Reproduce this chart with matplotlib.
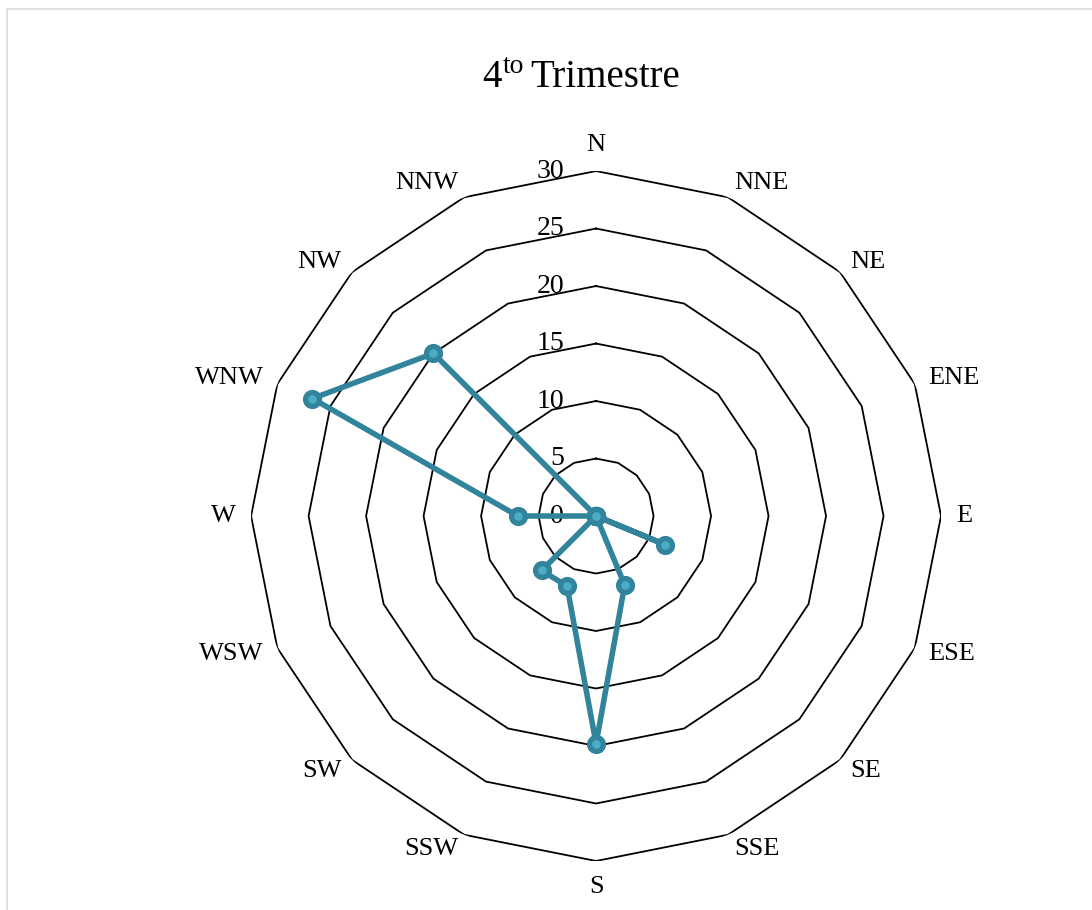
import numpy as np
import matplotlib.pyplot as plt
from matplotlib.patches import Rectangle
from matplotlib.transforms import offset_copy

plt.rcParams['font.family'] = ['Liberation Serif', 'DejaVu Serif']
plt.rcParams['mathtext.fontset'] = 'custom'
plt.rcParams['mathtext.rm'] = 'Liberation Serif'

# Datos del 4to trimestre (rosa de vientos)
direcciones = ['N', 'NNE', 'NE', 'ENE', 'E', 'ESE', 'SE', 'SSE',
               'S', 'SSW', 'SW', 'WSW', 'W', 'WNW', 'NW', 'NNW']
valores = [0, 0, 0, 0, 0, 6.5, 0, 6.5, 19.8, 6.6, 6.7, 0, 6.8, 26.7, 20.0, 0]
niveles = [0, 5, 10, 15, 20, 25, 30]

color_linea = '#31849B'
color_marcador = '#4BACC6'

angulos = np.deg2rad(np.arange(len(direcciones)) * 360 / len(direcciones))
ang_cerrado = np.append(angulos, angulos[0])
val_cerrado = np.append(valores, valores[0])

fig = plt.figure(figsize=(10.92, 9.10), dpi=100)

# Marco del area del grafico
fig.patches.append(Rectangle((6.5 / 1092, -0.1), 1.2, 1.1 - 9.5 / 910,
                             transform=fig.transFigure, fill=False,
                             edgecolor='#D9D9D9', linewidth=1.2))

ax = fig.add_axes([0.2299, 0.05385, 0.6319, 0.7582], projection='polar')
ax.set_theta_zero_location('N')
ax.set_theta_direction(-1)
ax.set_ylim(0, 30)
ax.grid(False)
ax.spines['polar'].set_visible(False)
ax.set_xticks([])
ax.set_yticks([])
ax.patch.set_alpha(0)

# Anillos poligonales
for nivel in niveles[1:]:
    ax.plot(ang_cerrado, [nivel] * len(ang_cerrado), color='black',
            linewidth=1.3, zorder=1)

# Etiquetas del eje radial
trans = offset_copy(ax.transData, fig=fig, x=-32, y=0, units='dots')
for nivel in niveles:
    ax.text(0, nivel, str(nivel), transform=trans, ha='right', va='center',
            fontsize=20, zorder=2)

# Etiquetas de direcciones
for ang, nombre in zip(angulos, direcciones):
    s, c = np.sin(ang), np.cos(ang)
    ha = 'center' if abs(s) < 0.01 else ('left' if s > 0 else 'right')
    va = 'center'
    if abs(s) < 0.01:
        va = 'bottom' if c > 0 else 'top'
    ax.text(ang, 31.3, nombre, ha=ha, va=va, fontsize=19, clip_on=False)

# Serie de datos
ax.plot(ang_cerrado, val_cerrado, color=color_linea, linewidth=4,
        marker='o', markersize=10, markerfacecolor=color_marcador,
        markeredgecolor=color_linea, markeredgewidth=3.8,
        solid_joinstyle='miter', zorder=3)

# Titulo con superindice
fig.text(502 / 1092, 1 - 87 / 910, '4', fontsize=28, ha='right',
         va='baseline')
fig.text(503 / 1092, 1 - 73 / 910, 'to', fontsize=20, ha='left',
         va='baseline')
fig.text(530 / 1092, 1 - 87 / 910, 'Trimestre', fontsize=28, ha='left',
         va='baseline')

fig.savefig('out.png', dpi=100, facecolor='white')
